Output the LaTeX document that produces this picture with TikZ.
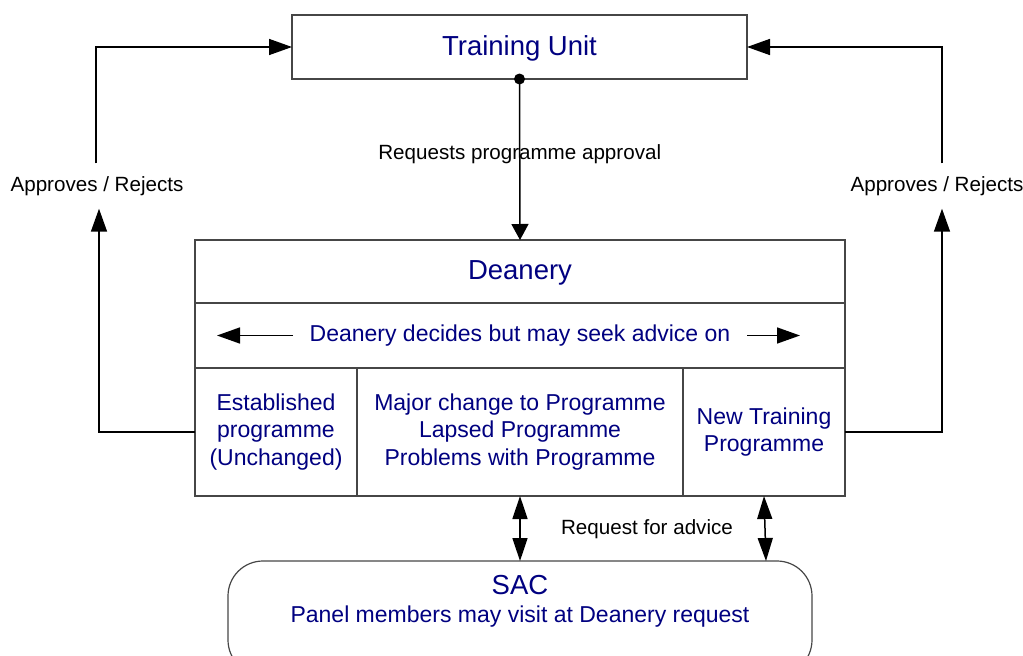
\documentclass[tikz,border=0pt]{standalone}
\usepackage{fontspec}
\setmainfont{Liberation Sans}
\usetikzlibrary{positioning, arrows.meta}
\definecolor{navy}{RGB}{0,0,128}
\definecolor{boxgray}{RGB}{70,70,70}
\tikzset{
  box/.style={
    rectangle, draw=boxgray, line width=1.2pt,
    text=navy, align=center, inner sep=0pt, outer sep=0pt,
    font=\fontsize{23}{27.5}\selectfont
  },
  title/.style={
    text=navy, inner sep=0pt, yshift=-1.5pt, font=\fontsize{27.5}{33}\selectfont
  },
  note/.style={
    text=black, inner sep=0pt, font=\fontsize{20.6}{24}\selectfont
  },
  link/.style={
    draw=black, line width=1.5pt,
    -{Triangle[length=23pt, width=16pt]}
  },
  twoway/.style={
    draw=black, line width=1.5pt,
    {Triangle[length=23pt, width=15pt]}-{Triangle[length=23pt, width=15pt]}
  },
  % side labels
  side/.style={
    note, minimum height=45pt
  }
}
\begin{document}
\begin{tikzpicture}[x=1pt, y=-1pt]
  \path[use as bounding box, clip] (0,0) rectangle (1023,656);

  \node[box, minimum width=455pt, minimum height=64pt] (unit) at (519.5,47) {};
  \node[title] (unit-t) at (unit.center) {Training Unit};

  \node[box, minimum width=650pt, minimum height=63pt] (dean) at (520,271.5) {};
  \node[title] (dean-t) at (dean.center) {Deanery};
  \node[box, minimum width=650pt, minimum height=65pt, below=0pt of dean] (advice) {Deanery decides but may seek advice on};
  \node[box, minimum width=162pt, minimum height=128pt, anchor=north west] (est) at (advice.south west) {Established\\programme\\(Unchanged)};
  \node[box, minimum width=326pt, minimum height=128pt, right=0pt of est] (major) {Major change to Programme\\Lapsed Programme\\Problems with Programme};
  \node[box, minimum width=162pt, minimum height=128pt, right=0pt of major] (new) {New Training\\Programme};

  \node[box, rounded corners=35pt, minimum width=584pt, minimum height=114pt] (sac) at (520,618) {};
  \node[title] (sac-t) at (520,584) {SAC};
  \node[box, draw=none] (sac-n) at (520,617) {Panel members may visit at Deanery request};

  \node[side] (left) at (97,186) {Approves / Rejects};
  \node[side] (right) at (937,186) {Approves / Rejects};

  % inner arrows of the advice row
  \draw[link] ([xshift=98pt]advice.west) -- ([xshift=22pt]advice.west);
  \draw[link] ([xshift=-98pt]advice.east) -- ([xshift=-45pt]advice.east);

  \fill (unit.south) circle (5.5pt);
  \draw[link, -{Triangle[length=16pt, width=17pt]}] (unit.south) -- (dean.north)
    node[note, pos=0.47] {Requests programme approval};

  \draw[link] (est.west) -| ([xshift=2pt]left.south);
  \draw[link] ([xshift=-1pt]left.north) |- (unit.west);
  \draw[link] (new.east) -| ([xshift=5pt]right.south);
  \draw[link] ([xshift=5pt]right.north) |- (unit.east);

  \draw[twoway] (major.south) -- (major.south |- sac.north);
  \draw[twoway] (new.south) -- ([xshift=2pt]new.south |- sac.north);
  \node[note] (ask) at (647,529) {Request for advice};
\end{tikzpicture}
\end{document}
